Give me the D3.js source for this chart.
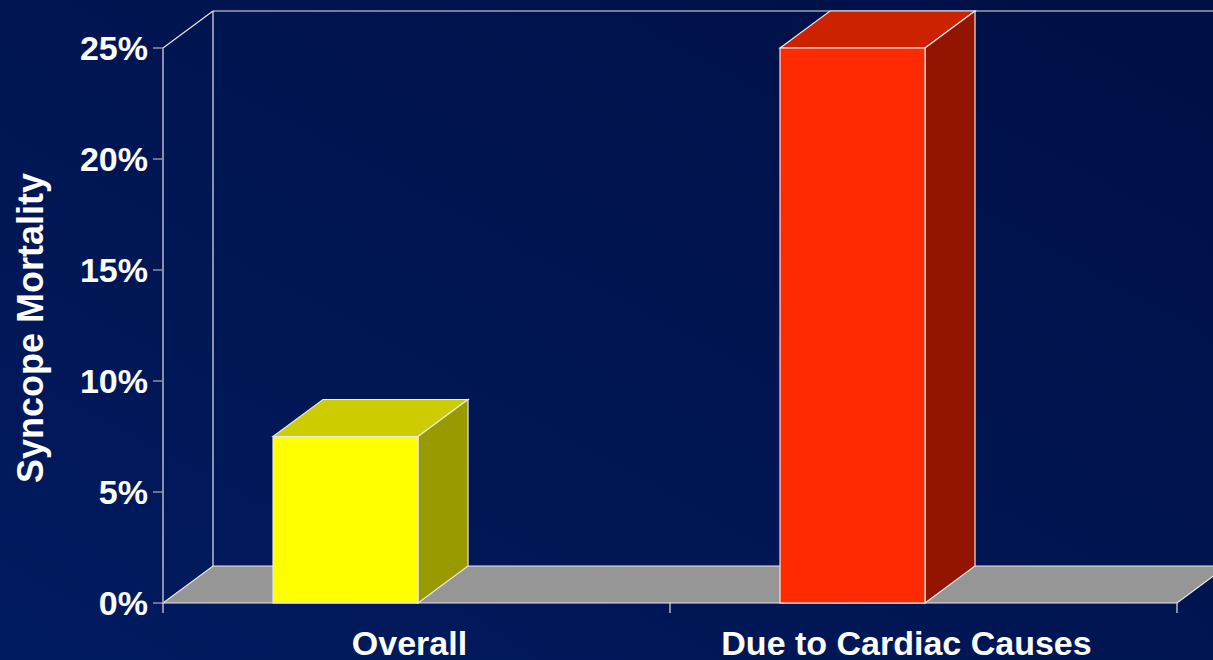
<!DOCTYPE html>
<html>
<head>
<meta charset="UTF-8">
<title>Syncope Mortality</title>
<script src="https://cdnjs.cloudflare.com/ajax/libs/d3/7.8.5/d3.min.js"></script>
<style>
body{margin:0;padding:0;overflow:hidden;}
text{font-family:"Liberation Sans",Arial,sans-serif;font-weight:bold;fill:white;}
.edge{stroke:#e8e8e8;stroke-width:1.2;}
</style>
</head>
<body>
<div id="chart"></div>
<script>
var categories=["Overall","Due to Cardiac Causes"];
var values=[7.5,25];
var ticks=[0,5,10,15,20,25];
var fronts=["#ffff00","#ff2a00"];
var tops=["#cccc00","#cc2200"];
var sides=["#999900","#931400"];

var width=1213,height=660;
var dx=50,dy=-37; // depth offset
var svg=d3.select("#chart").append("svg").attr("width",width).attr("height",height);

var grad=svg.append("defs").append("linearGradient").attr("id","bg")
  .attr("x1","0").attr("y1","1").attr("x2","1").attr("y2","0");
grad.append("stop").attr("offset","0").attr("stop-color","#001b5f");
grad.append("stop").attr("offset","1").attr("stop-color","#000f45");
svg.append("rect").attr("width",width).attr("height",height).attr("fill","url(#bg)");

var y=d3.scaleLinear().domain([0,25]).range([603,48]);
var x=d3.scaleBand().domain(categories).range([163,1177]);
var bw=x.bandwidth();

// back wall outline
svg.append("line").attr("class","edge").attr("x1",163+dx).attr("y1",y(0)+dy).attr("x2",163+dx).attr("y2",y(25)+dy);
svg.append("line").attr("class","edge").attr("x1",163+dx).attr("y1",y(25)+dy).attr("x2",width).attr("y2",y(25)+dy);
svg.append("line").attr("class","edge").attr("x1",163).attr("y1",y(25)).attr("x2",163+dx).attr("y2",y(25)+dy);

// floor
var x0=163,x1=1177;
svg.append("path").attr("fill","#969696").attr("class","edge")
  .attr("d","M"+x0+","+y(0)+"L"+(x0+dx)+","+(y(0)+dy)+"L"+(x1+dx)+","+(y(0)+dy)+"L"+x1+","+y(0)+"Z");

// y axis
svg.append("line").attr("x1",163).attr("x2",163).attr("y1",y(0)).attr("y2",y(25)).attr("stroke","#b8b8c8").attr("stroke-width",1.5);
svg.selectAll(".ytick").data(ticks).enter().append("line")
  .attr("x1",153).attr("x2",163).attr("y1",function(d){return y(d);}).attr("y2",function(d){return y(d);})
  .attr("stroke","#9090a0").attr("stroke-width",1.5);
svg.selectAll(".ylab").data(ticks).enter().append("text")
  .attr("x",148).attr("y",function(d){return y(d)+12;})
  .attr("text-anchor","end").style("font-size","34px")
  .text(function(d){return d+"%";});

// x axis ticks
svg.selectAll(".xtick").data([163,670,1177]).enter().append("line")
  .attr("x1",function(d){return d;}).attr("x2",function(d){return d;})
  .attr("y1",y(0)).attr("y2",y(0)+10).attr("stroke","#e0e0e0").attr("stroke-width",1.2);

// bars
var g=svg.selectAll(".bar").data(categories).enter().append("g");
g.each(function(c,i){
  var s=d3.select(this);
  var bx=x(c)+bw*0.217, w=bw*0.286, top=y(values[i]), base=y(0);
  s.append("path").attr("class","edge").attr("fill",tops[i])
    .attr("d","M"+bx+","+top+"L"+(bx+dx)+","+(top+dy)+"L"+(bx+w+dx)+","+(top+dy)+"L"+(bx+w)+","+top+"Z");
  s.append("path").attr("class","edge").attr("fill",sides[i])
    .attr("d","M"+(bx+w)+","+top+"L"+(bx+w+dx)+","+(top+dy)+"L"+(bx+w+dx)+","+(base+dy)+"L"+(bx+w)+","+base+"Z");
  s.append("rect").attr("class","edge").attr("fill",fronts[i])
    .attr("x",bx).attr("y",top).attr("width",w).attr("height",base-top);
});

// category labels
svg.selectAll(".xlab").data(categories).enter().append("text")
  .attr("x",function(c,i){return x(c)+bw/2-7-10*i;}).attr("y",655)
  .attr("text-anchor","middle").style("font-size","34px")
  .text(function(c){return c;});

// axis title
svg.append("text").attr("transform","translate(43,328) rotate(-90)")
  .attr("text-anchor","middle").style("font-size","36px").text("Syncope Mortality");
</script>
</body>
</html>
